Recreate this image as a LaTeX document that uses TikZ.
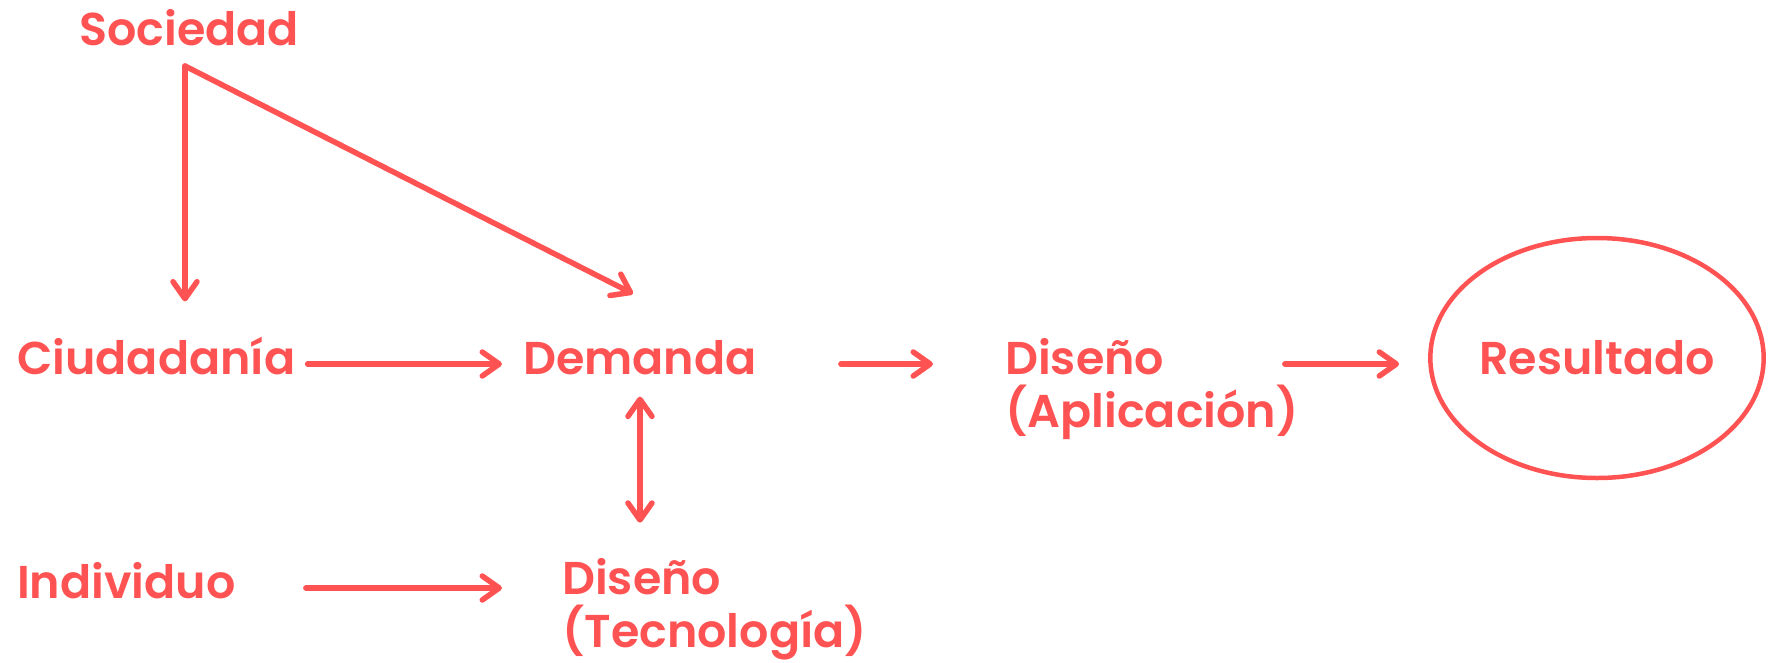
\documentclass[tikz,border=0pt]{standalone}
\usepackage{fontspec}
\setmainfont{Poppins}[UprightFont=* SemiBold]
\usetikzlibrary{arrows.meta,shapes.geometric}
\definecolor{coral}{RGB}{255,82,82}
\tikzset{
  lbl/.style={inner sep=0pt, text=coral, font=\fontsize{46}{53}\selectfont, align=left},
  flow/.style={draw=coral, line width=5.5pt, line cap=round, -{Straight Barb[length=17pt,width=24pt,line cap=round,line join=round]}},
  both/.style={flow, {Straight Barb[length=17pt,width=24pt,line cap=round,line join=round]}-{Straight Barb[length=17pt,width=24pt,line cap=round,line join=round]}}
}
\begin{document}
\begin{tikzpicture}[x=1pt,y=-1pt]
\useasboundingbox (0,0) rectangle (1773,662);
% text
\node[lbl, anchor=base west] (soc) at (79,45) {Sociedad};
\node[lbl, anchor=base west] (ciud) at (17,374) {Ciudadanía};
\node[lbl, anchor=base west] (dem) at (523,374) {Demanda};
\node[lbl, anchor=base west] (apl) at (1005,427) {Diseño\\(Aplicación)};
\node[lbl, anchor=base west] (ind) at (17,598) {Individuo};
\node[lbl, anchor=base west] (tec) at (562,647) {Diseño\\(Tecnología)};
\node[lbl, draw=coral, line width=4.5pt, ellipse, minimum width=332pt, minimum height=240pt] (res) at (1597,358) {Resultado};
\coordinate (fork) at (185,66);
% arrows
\draw[flow, shorten >=35pt] (fork) -- (fork |- ciud.north);
\draw[flow] (fork) -- ([xshift=-7pt,yshift=46pt]dem.north);
\draw[flow, shorten <=12pt, shorten >=21pt] ([yshift=10pt]ciud.base east) -- ([yshift=10pt]dem.base west);
\draw[flow, shorten <=84pt, shorten >=72pt] ([yshift=10pt]dem.base east) -- ([yshift=10pt]dem.base east -| apl.west);
\draw[flow, shorten <=-14pt, shorten >=29pt] ([yshift=10pt]dem.base east -| apl.east) -- ([yshift=10pt]dem.base east -| res.west);
\draw[both, shorten <=22pt, shorten >=35pt] (dem.south) -- (dem.south |- tec.north);
\draw[flow, shorten <=70pt, shorten >=60pt] ([yshift=10pt]ind.base east) -- ([yshift=10pt]tec.base west |- ind.base);
\end{tikzpicture}
\end{document}
